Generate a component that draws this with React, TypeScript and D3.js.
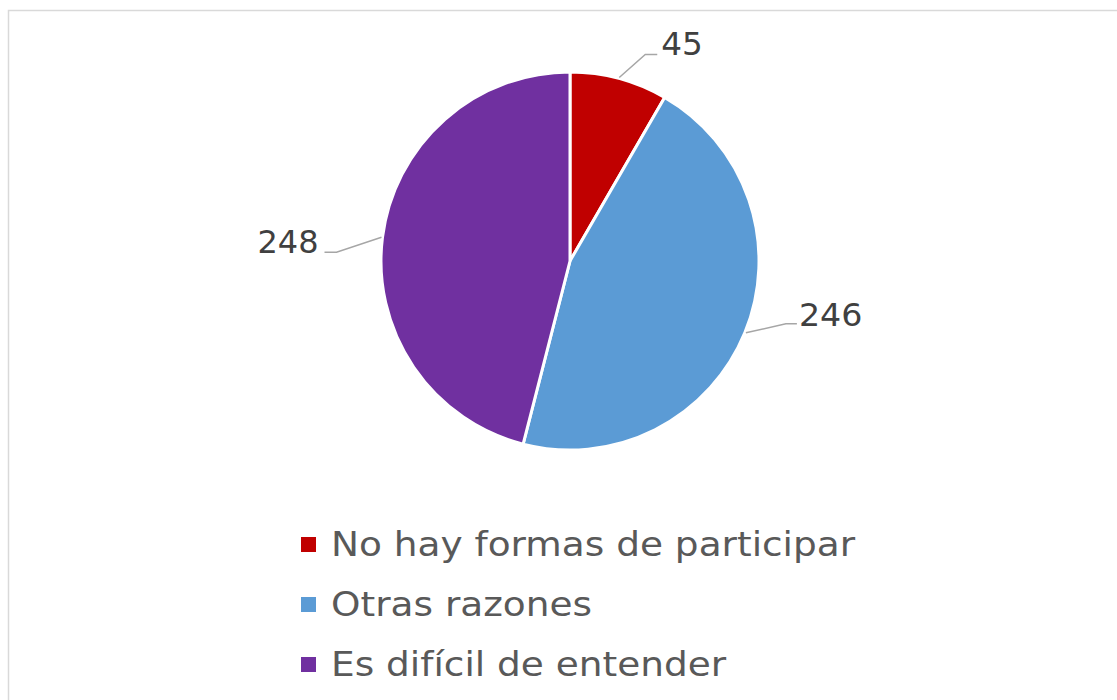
import React from "react";
import * as d3 from "d3";

const categories = ["No hay formas de participar", "Otras razones", "Es difícil de entender"];
const values = [45, 246, 248];
const colors = ["#C00000", "#5B9BD5", "#7030A0"];
// label leader offsets: elbow dx, dy, horizontal run, text gap
const leader = [
  { ex: 26, ey: -23, run: 12, gap: 4, by: 1, sx: 1.02 },
  { ex: 40, ey: -9, run: 11, gap: 2, by: 2, sx: 1.04 },
  { ex: -45, ey: 15, run: -12, gap: -6, by: 1, sx: 1.0 },
];

const W = 1117, H = 700;
const cx = 570, cy = 261, R = 189;

export default function App() {
  const pie = d3.pie<number>().sort(null).value((d) => d)(values);
  const arc = d3.arc<d3.PieArcDatum<number>>().innerRadius(0).outerRadius(R);
  return (
    <svg width={W} height={H} style={{ position: "absolute", left: 0, top: 0, fontFamily: "'DejaVu Sans', Verdana, sans-serif" }}>
      <rect x={0} y={0} width={W} height={H} fill="#fff" />
      <rect x={8.5} y={10.5} width={W + 20} height={H + 20} fill="none" stroke="#D9D9D9" strokeWidth={1.5} />
      <g transform={`translate(${cx},${cy})`}>
        {pie.map((p, i) => (
          <path key={i} d={arc(p) || ""} fill={colors[i]} stroke="#fff" strokeWidth={3} strokeLinejoin="round" />
        ))}
        {pie.map((p, i) => {
          const a = (p.startAngle + p.endAngle) / 2;
          const sx = Math.sin(a) * (R + 1);
          const sy = -Math.cos(a) * (R + 1);
          const L = leader[i];
          const mx = sx + L.ex, my = sy + L.ey;
          const endx = mx + L.run;
          const tx = endx + L.gap;
          return (
            <g key={"l" + i}>
              <polyline points={`${sx},${sy} ${mx},${my} ${endx},${my}`} fill="none" stroke="#A6A6A6" strokeWidth={1.5} />
              <text transform={`translate(${tx},${my + L.by}) scale(${L.sx},1)`} fill="#404040" fontSize={32} textAnchor={L.run < 0 ? "end" : "start"}>
                {values[i]}
              </text>
            </g>
          );
        })}
      </g>
      <g>
        {categories.map((c, i) => (
          <g key={c} transform={`translate(301,${537 + i * 60})`}>
            <rect x={0} y={0} width={15} height={15} fill={colors[i]} />
            <text transform="translate(30,19) scale(1.135,1)" fill="#595959" fontSize={33}>{c}</text>
          </g>
        ))}
      </g>
    </svg>
  );
}
